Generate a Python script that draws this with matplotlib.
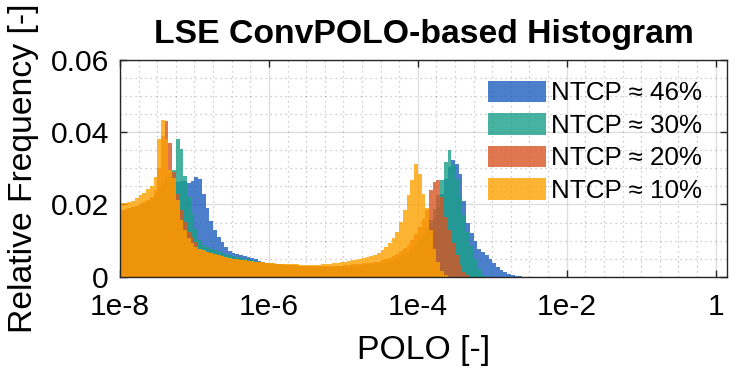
import numpy as np
import matplotlib
matplotlib.use('Agg')
import matplotlib.pyplot as plt
from matplotlib.ticker import FixedLocator, MultipleLocator

plt.rcParams['font.family'] = ['Liberation Sans', 'DejaVu Sans']

# histogram bins: log10 edges, 20 bins per decade starting at 1e-8
bin_start = -8.0
bin_width = 0.05

# relative frequency per bin
ntcp_46 = [0.0183, 0.0185, 0.0188, 0.0191, 0.0195, 0.0199, 0.0203, 0.0208, 0.0214, 0.0222,
           0.0232, 0.0242, 0.0250, 0.0256, 0.0260, 0.0262, 0.0264, 0.0265, 0.0260, 0.0265,
           0.0277, 0.0270, 0.0230, 0.0190, 0.0155, 0.0130, 0.0110, 0.0097, 0.0083, 0.0072,
           0.0066, 0.0062, 0.0060, 0.0058, 0.0055, 0.0052, 0.0048, 0.0043, 0.0040, 0.0038,
           0.0036, 0.0035, 0.0034, 0.0033, 0.0032, 0.0032, 0.0031, 0.0031, 0.0030, 0.0030,
           0.0029, 0.0029, 0.0028, 0.0028, 0.0028, 0.0027, 0.0027, 0.0027, 0.0027, 0.0028,
           0.0028, 0.0028, 0.0029, 0.0029, 0.0030, 0.0031, 0.0031, 0.0032, 0.0033, 0.0034,
           0.0036, 0.0038, 0.0040, 0.0043, 0.0046, 0.0050, 0.0055, 0.0061, 0.0068, 0.0077,
           0.0088, 0.0101, 0.0117, 0.0137, 0.0162, 0.0192, 0.0228, 0.0270, 0.0305, 0.0322,
           0.0313, 0.0285, 0.0210, 0.0150, 0.0120, 0.0098, 0.0078, 0.0069, 0.0059, 0.0048,
           0.0038, 0.0028, 0.0019, 0.0012, 0.0008, 0.0004, 0.0002, 0.0001]

ntcp_30 = [0.0184, 0.0186, 0.0189, 0.0192, 0.0196, 0.0200, 0.0205, 0.0210, 0.0217, 0.0228,
           0.0245, 0.0265, 0.0280, 0.0285, 0.0295, 0.0382, 0.0355, 0.0280, 0.0220, 0.0175,
           0.0133, 0.0101, 0.0087, 0.0082, 0.0078, 0.0074, 0.0069, 0.0065, 0.0062, 0.0059,
           0.0057, 0.0054, 0.0052, 0.0050, 0.0048, 0.0046, 0.0044, 0.0041, 0.0039, 0.0037,
           0.0036, 0.0035, 0.0034, 0.0033, 0.0033, 0.0032, 0.0032, 0.0031, 0.0031, 0.0030,
           0.0030, 0.0029, 0.0029, 0.0029, 0.0028, 0.0028, 0.0028, 0.0028, 0.0029, 0.0029,
           0.0029, 0.0030, 0.0030, 0.0031, 0.0032, 0.0033, 0.0034, 0.0035, 0.0036, 0.0037,
           0.0039, 0.0041, 0.0044, 0.0047, 0.0051, 0.0056, 0.0062, 0.0069, 0.0078, 0.0089,
           0.0102, 0.0117, 0.0135, 0.0158, 0.0188, 0.0225, 0.0267, 0.0318, 0.0350, 0.0310,
           0.0270, 0.0220, 0.0170, 0.0125, 0.0085, 0.0050, 0.0022, 0.0006, 0.0, 0.0,
           0.0, 0.0, 0.0, 0.0, 0.0, 0.0, 0.0, 0.0]

ntcp_20 = [0.0185, 0.0187, 0.0190, 0.0193, 0.0197, 0.0201, 0.0207, 0.0213, 0.0220, 0.0240,
           0.0300, 0.0390, 0.0431, 0.0371, 0.0290, 0.0230, 0.0184, 0.0152, 0.0124, 0.0110,
           0.0096, 0.0078, 0.0073, 0.0069, 0.0065, 0.0061, 0.0058, 0.0056, 0.0053, 0.0051,
           0.0049, 0.0047, 0.0046, 0.0044, 0.0043, 0.0042, 0.0041, 0.0040, 0.0039, 0.0038,
           0.0037, 0.0035, 0.0034, 0.0034, 0.0033, 0.0033, 0.0032, 0.0032, 0.0031, 0.0031,
           0.0030, 0.0030, 0.0029, 0.0029, 0.0029, 0.0029, 0.0030, 0.0030, 0.0030, 0.0031,
           0.0032, 0.0033, 0.0034, 0.0035, 0.0036, 0.0037, 0.0038, 0.0039, 0.0040, 0.0042,
           0.0045, 0.0049, 0.0053, 0.0058, 0.0064, 0.0071, 0.0079, 0.0089, 0.0101, 0.0118,
           0.0138, 0.0160, 0.0185, 0.0240, 0.0262, 0.0268, 0.0220, 0.0165, 0.0129, 0.0092,
           0.0059, 0.0032, 0.0013, 0.0005, 0.0, 0.0, 0.0, 0.0, 0.0, 0.0,
           0.0, 0.0, 0.0, 0.0, 0.0, 0.0, 0.0, 0.0]

ntcp_10 = [0.0203, 0.0205, 0.0208, 0.0210, 0.0219, 0.0227, 0.0232, 0.0244, 0.0250, 0.0275,
           0.0382, 0.0435, 0.0380, 0.0295, 0.0272, 0.0212, 0.0156, 0.0129, 0.0106, 0.0092,
           0.0082, 0.0077, 0.0073, 0.0069, 0.0065, 0.0062, 0.0059, 0.0056, 0.0054, 0.0052,
           0.0050, 0.0048, 0.0047, 0.0045, 0.0044, 0.0043, 0.0042, 0.0041, 0.0040, 0.0039,
           0.0038, 0.0037, 0.0036, 0.0036, 0.0035, 0.0035, 0.0034, 0.0034, 0.0033, 0.0033,
           0.0032, 0.0032, 0.0032, 0.0033, 0.0034, 0.0035, 0.0036, 0.0037, 0.0038, 0.0040,
           0.0041, 0.0043, 0.0045, 0.0047, 0.0050, 0.0052, 0.0054, 0.0057, 0.0061, 0.0067,
           0.0074, 0.0082, 0.0092, 0.0107, 0.0125, 0.0152, 0.0185, 0.0225, 0.0267, 0.0311,
           0.0285, 0.0230, 0.0190, 0.0130, 0.0078, 0.0040, 0.0015, 0.0004, 0.0, 0.0,
           0.0, 0.0, 0.0, 0.0, 0.0, 0.0, 0.0, 0.0, 0.0, 0.0,
           0.0, 0.0, 0.0, 0.0, 0.0, 0.0, 0.0, 0.0]

series = [ntcp_46, ntcp_30, ntcp_20, ntcp_10]
labels = ['NTCP ≈ 46%', 'NTCP ≈ 30%', 'NTCP ≈ 20%', 'NTCP ≈ 10%']
colors = ['#1E5FC0', '#1A9F88', '#D85624', '#FDA100']

x_ticks = [1e-8, 1e-6, 1e-4, 1e-2, 1]
x_ticklabels = ['1e-8', '1e-6', '1e-4', '1e-2', '1']
y_ticks = [0, 0.02, 0.04, 0.06]
y_ticklabels = ['0', '0.02', '0.04', '0.06']

dark = '#262626'

fig = plt.figure(figsize=(7.39, 3.84), dpi=100)
ax = fig.add_axes([0.1624, 0.2794, 0.8214, 0.5643])

n = len(ntcp_46)
edges = 10 ** (bin_start + bin_width * np.arange(n + 1))
for vals, lab, col in zip(series, labels, colors):
    ax.stairs(vals, edges, fill=True, color=col, alpha=0.8, linewidth=0, label=lab)

ax.set_xscale('log')
ax.set_xlim(1e-8, 10 ** 0.154)
ax.set_ylim(0, 0.06)

ax.set_xticks(x_ticks)
ax.set_xticklabels(x_ticklabels)
ax.set_yticks(y_ticks)
ax.set_yticklabels(y_ticklabels)
ax.xaxis.set_minor_locator(FixedLocator(10 ** np.arange(-8, 0.2, 0.25)))
ax.yaxis.set_minor_locator(MultipleLocator(0.005))
ax.xaxis.set_minor_formatter(plt.NullFormatter())

ax.set_axisbelow(True)
ax.grid(which='major', color=dark, alpha=0.15, linewidth=1.0, linestyle='-')
ax.grid(which='minor', color=dark, alpha=0.3, linewidth=0.9, linestyle=(0, (1, 3)))

ax.tick_params(which='major', direction='in', length=5, width=1, top=True, right=True,
               labelsize=21.6, colors=dark, labelcolor='black', pad=8)
ax.tick_params(axis='x', which='major', pad=12)
ax.tick_params(which='minor', length=0)
for sp in ax.spines.values():
    sp.set_color(dark)
    sp.set_linewidth(1.0)

ax.set_title('LSE ConvPOLO-based Histogram', fontsize=24.3, fontweight='bold', pad=12)
ax.set_xlabel('POLO [-]', fontsize=24.3, labelpad=10)
ax.set_ylabel('Relative Frequency [-]', fontsize=24.3, labelpad=8)

ax.legend(loc='upper left', bbox_to_anchor=(0.606, 0.905), frameon=False, fontsize=18.7,
          handlelength=2.25, handleheight=0.9, handletextpad=0.2, labelspacing=0.3,
          borderpad=0, borderaxespad=0)

fig.savefig('out.png', dpi=100)
